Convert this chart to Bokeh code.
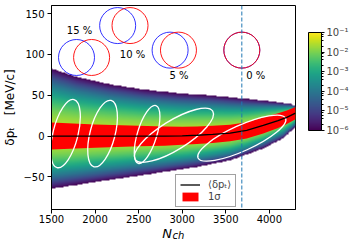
import numpy as np
from bokeh.plotting import figure
from bokeh.models import (LogColorMapper, ColorBar, LogTicker, CustomJSTickFormatter,
                          Span, Legend, LegendItem, LinearAxis, FixedTicker)
from bokeh.palettes import Viridis256
from bokeh.embed import file_html
from bokeh.resources import INLINE
from bokeh.core.properties import value

# ---------------- data ----------------
x_lim = [1500, 4300]
y_lim = [-90, 160]
x_ticks = [1500, 2000, 2500, 3000, 3500, 4000]
y_ticks = [-50, 0, 50, 100, 150]

# mean <delta p_t> and 1 sigma width vs N_ch
mean_N = [1500, 2000, 2500, 2800, 3000, 3170, 3350, 3550, 3740, 3930, 4100, 4200, 4300]
mean_dp = [0.0, 0.0, 0.0, 0.0, 0.3, 1.0, 2.0, 3.7, 7.0, 13.0, 19.0, 23.0, 28.0]
sigma_dp = [16.5, 14.3, 12.5, 11.8, 11.0, 10.7, 10.5, 10.2, 10.0, 9.8, 9.0, 8.2, 7.5]

# envelope of the density (level 1e-6)
env_up_N = [1500, 1787, 2171, 2554, 2937, 3320, 3703, 4086, 4240, 4300]
env_up = [82.8, 72.5, 63.5, 57.0, 52.8, 50.0, 46.0, 41.8, 39.8, 37.0]
env_lo_N = [1500, 1787, 2100, 2550, 2800, 3170, 3550, 3930, 4160, 4300]
env_lo = [-64.6, -60.0, -55.0, -48.0, -44.0, -38.0, -30.0, -15.5, -3.0, 11.0]
peak_log = -1.45
floor_log = -6.0

# white contour ellipses
ell_N = [1661, 2086, 2597, 2905, 3684]
ell_dp = [3.0, 3.0, 2.0, 1.0, -2.5]
ell_w = [804, 786, 694, 1048, 1103]
ell_h = [30.7, 30.7, 23.8, 35.6, 31.4]
ell_angle = [76.0, 75.5, 73.0, 31.8, 24.4]

# overlap illustration circles
pair_labels = ["15 %", "10 %", "5 %", "0 %"]
blue_N = [1787, 2259, 2861, 3684]
red_N = [1960, 2401, 2957, 3684]
pair_dp = [96.3, 135.4, 105.3, 105.3]
label_N = [1822, 2430, 2962, 3843]
label_dp = [129.9, 100.0, 74.6, 74.6]

vline_N = 3684

cb_low, cb_high = 1e-6, 1e-1

# ---------------- figure ----------------
p = figure(frame_width=244, frame_height=204, x_range=tuple(x_lim), y_range=tuple(y_lim),
           output_backend="svg", toolbar_location=None,
           min_border_left=48, min_border_right=63, min_border_top=5, min_border_bottom=37)
p.grid.visible = False
p.outline_line_color = "black"
p.outline_line_width = 1

for ax in (p.xaxis, p.yaxis):
    ax.major_label_text_font = "DejaVu Sans"
    ax.major_label_text_font_size = "10px"
    ax.major_label_text_color = "black"
    ax.major_tick_in = 0
    ax.major_tick_out = 4
    ax.minor_tick_line_color = None
    ax.axis_line_color = "black"
    ax.major_tick_line_color = "black"
    ax.axis_label_text_font = "DejaVu Sans"
    ax.axis_label_text_color = "black"
p.xaxis.ticker = x_ticks
p.yaxis.ticker = y_ticks
p.yaxis.major_label_overrides = {t: str(t).replace("-", "\u2212") for t in y_ticks}
p.xaxis.major_label_standoff = 1
p.yaxis.major_label_standoff = 3

p.yaxis.axis_label = "\u03b4p\u209c\u2002\u2002[MeV/c]"
p.yaxis.axis_label_text_font_size = "12px"
p.yaxis.axis_label_text_font_style = "normal"
p.yaxis.axis_label_standoff = 3

p.xaxis.axis_label = "N\u2003"
p.xaxis.axis_label_text_font_size = "13px"
p.xaxis.axis_label_text_font_style = "italic"
p.xaxis.axis_label_standoff = 0

sub_axis = LinearAxis(ticker=FixedTicker(ticks=[]), axis_line_color=None,
                      major_tick_line_color=None, minor_tick_line_color=None,
                      axis_label="\u2002\u2002ch", axis_label_text_font_size="10px",
                      axis_label_text_font_style="italic", axis_label_text_font="DejaVu Sans",
                      axis_label_text_color="black", axis_label_standoff=-14)
p.add_layout(sub_axis, "below")

# density image
mapper = LogColorMapper(palette=Viridis256, low=cb_low, high=cb_high, nan_color=(0, 0, 0, 0))
nx, ny = 560, 500
gx = np.linspace(x_lim[0], x_lim[1], nx)
gy = np.linspace(y_lim[0], y_lim[1], ny)
mu = np.interp(gx, mean_N, mean_dp)
up = np.interp(gx, env_up_N, env_up)
lo = np.interp(gx, env_lo_N, env_lo)
D = gy[:, None] - mu[None, :]
half = np.where(D >= 0, (up - mu)[None, :], (mu - lo)[None, :])
t = np.abs(D) / half
logd = floor_log + (peak_log - floor_log) * (1 - t ** 2)
dens = np.where(t <= 1, 10 ** logd, np.nan)
p.image(image=[dens], x=x_lim[0], y=y_lim[0], dw=x_lim[1] - x_lim[0], dh=y_lim[1] - y_lim[0],
        color_mapper=mapper)

# 1 sigma band and mean line
band_lo = [m - s for m, s in zip(mean_dp, sigma_dp)]
band_hi = [m + s for m, s in zip(mean_dp, sigma_dp)]
r_band = p.varea(x=mean_N, y1=band_lo, y2=band_hi, fill_color="red")
p.ellipse(x=ell_N, y=ell_dp, width=ell_w, height=ell_h, angle=ell_angle, angle_units="deg",
          fill_alpha=0, line_color="white", line_width=1.3)
r_line = p.line(mean_N, mean_dp, line_color="black", line_width=1.3)

# dashed vertical line
p.add_layout(Span(location=vline_N, dimension="height", line_color="#1f77b4",
                  line_dash="4 2", line_width=1))

# circles
p.scatter(x=blue_N, y=pair_dp, size=36, marker="circle", fill_alpha=0,
          line_color="blue", line_alpha=0.8, line_width=1)
p.scatter(x=red_N, y=pair_dp, size=36, marker="circle", fill_alpha=0,
          line_color="red", line_alpha=0.9, line_width=1)
p.text(x=label_N, y=label_dp, text=pair_labels, text_align="center", text_baseline="middle",
       text_font=value("DejaVu Sans"), text_font_size="10px", text_color="black")

# legend
legend = Legend(items=[LegendItem(label="\u27e8\u03b4p\u209c\u27e9", renderers=[r_line]),
                       LegendItem(label="1\u03c3", renderers=[r_band])],
                location=(124, 2), padding=4, spacing=1, margin=0,
                glyph_width=20, glyph_height=11, label_standoff=8,
                label_text_font_size="10px", label_text_font="DejaVu Sans",
                border_line_color="#444444", border_line_width=1,
                background_fill_alpha=0.9)
p.add_layout(legend, "center")

# colorbar
fmt = CustomJSTickFormatter(code="""
const e = Math.round(Math.log10(tick));
const sup = {'-':'\u207b','0':'\u2070','1':'\u00b9','2':'\u00b2','3':'\u00b3','4':'\u2074','5':'\u2075','6':'\u2076','7':'\u2077','8':'\u2078','9':'\u2079'};
return '10' + String(e).split('').map(c => sup[c]).join('');
""")
cb = ColorBar(color_mapper=mapper, ticker=LogTicker(), formatter=fmt, width=13, height=98,
              location=(13, 79), padding=0, margin=0, bar_line_color="black",
              major_tick_out=3, major_tick_in=0, minor_tick_out=2, minor_tick_in=0,
              major_tick_line_color="black", minor_tick_line_color="black",
              major_label_text_font_size="10px", major_label_text_font="DejaVu Sans",
              label_standoff=2, background_fill_alpha=0, border_line_color=None)
p.add_layout(cb, "right")

open("out.html", "w").write(file_html(p, INLINE))
